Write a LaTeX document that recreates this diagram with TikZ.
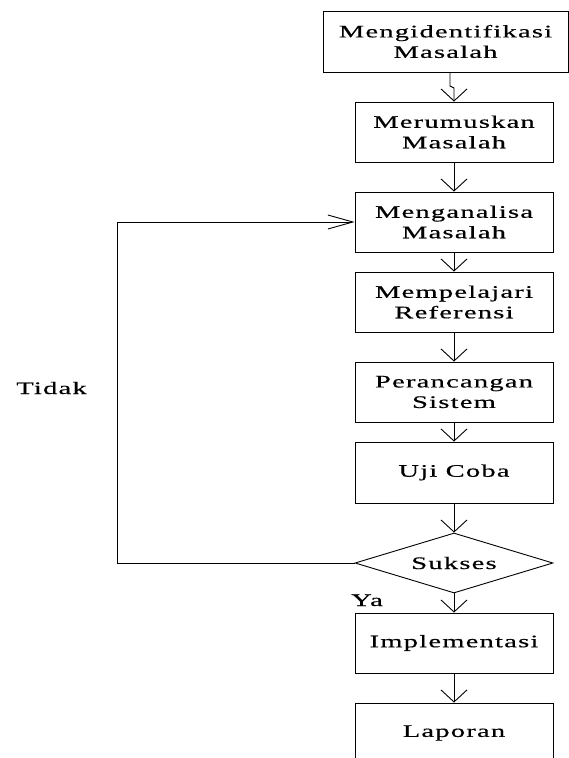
\documentclass[tikz,border=0pt]{standalone}
\usepackage{fontspec}
\setmainfont{Liberation Serif}[FakeStretch=1.62, LetterSpace=7, FakeBold=0.45]
\usetikzlibrary{arrows.meta,shapes.geometric}
\begin{document}
\begin{tikzpicture}[x=1pt,y=-1pt,
  every node/.style={font=\fontsize{17.6}{20.5}\selectfont, align=center},
  box/.style={draw, line width=0.9pt, minimum width=198pt, minimum height=60pt, inner sep=0pt},
  arr/.style={line width=0.9pt, -{Straight Barb[length=12pt,width=26pt,line width=0.9pt]}},
  harr/.style={line width=0.9pt, -{Straight Barb[length=25pt,width=14pt,line width=0.9pt]}},
  ]
\useasboundingbox (0,0) rectangle (569,758);
\clip (0,0) rectangle (569,758);
\fill[white] (0,0) rectangle (569,758);
\node[box, minimum width=245pt, minimum height=61pt] (b1) at (445.5,41.5) {Mengidentifikasi\\Masalah};
\node[box] (b2) at (454,132) {Merumuskan\\Masalah};
\node[box] (b3) at (454,222) {Menganalisa\\Masalah};
\node[box] (b4) at (454,302) {Mempelajari\\Referensi};
\node[box] (b5) at (454,392) {Perancangan\\Sistem};
\node[box, minimum height=61pt] (b6) at (454,472.5) {Uji Coba};
\node[draw, diamond, line width=0.9pt, minimum width=198pt, minimum height=60pt, inner sep=0pt] (d) at (454,563) {};
\node at (d) {Sukses};
\node[box] (b7) at (454,643) {Implementasi};
\node[box] (b8) at (454,733) {Laporan};
\node (tidak) at (51.5,388) {Tidak};
\node[anchor=base west, inner sep=0pt] (ya) at (351,606) {Ya};
\coordinate (lc) at (117,563);
\coordinate (k1) at (450,86);
\coordinate (k2) at (454,88);
\draw[arr] (b1.south -| k1) -- (k1) -- (k2) -- (b2.north -| k2);
\draw[arr] (b2) -- (b3);
\draw[arr] (b3) -- (b4);
\draw[arr] (b4) -- (b5);
\draw[arr] (b5) -- (b6);
\draw[arr] (b6) -- (d);
\draw[arr] (d) -- (b7);
\draw[arr] (b7) -- (b8);
\draw[harr] (d.west) -- (lc) |- (b3.west);
\end{tikzpicture}
\end{document}
